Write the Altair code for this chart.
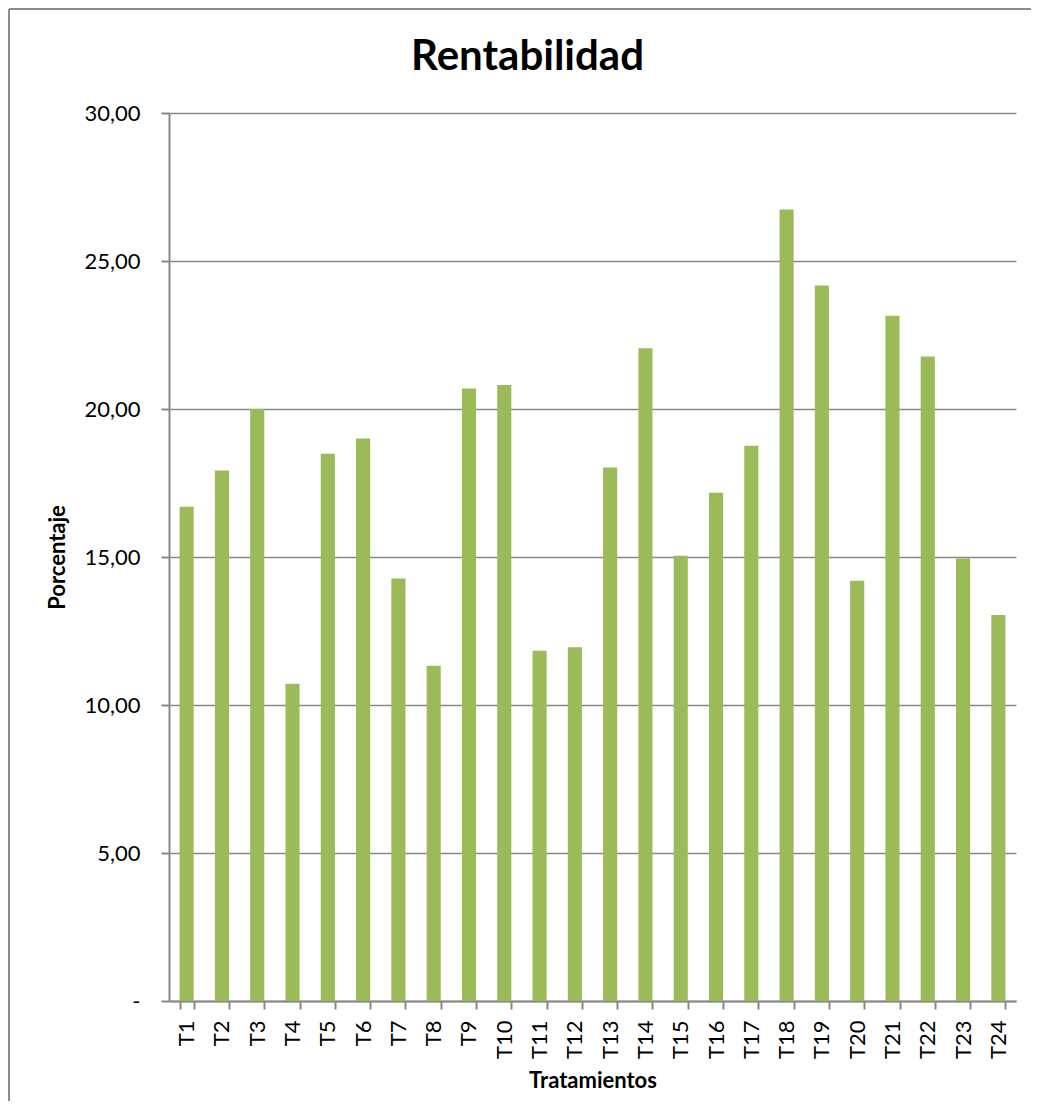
import altair as alt
import pandas as pd

categories = [f"T{i}" for i in range(1, 25)]
values = [16.70, 17.92, 20.00, 10.72, 18.49, 19.00, 14.27, 11.33, 20.69, 20.81,
          11.83, 11.95, 18.02, 22.05, 15.04, 17.17, 18.76, 26.74, 24.17, 14.20,
          23.15, 21.77, 14.95, 13.04]
y_ticks = [0, 5, 10, 15, 20, 25, 30]

df = pd.DataFrame({"cat": categories, "val": values})

FONT = "Lato"
GRAY = "#888888"
W, H = 847, 888
PAD_L, PAD_T, PAD_R, PAD_B = 161, 105, 15, 100

bars = alt.Chart(df).mark_bar(color="#9BBB59").encode(
    x=alt.X("cat:N", sort=categories,
            scale=alt.Scale(paddingInner=0.6, paddingOuter=0.3),
            axis=alt.Axis(title="Tratamientos", labelAngle=-90, tickBand="extent",
                          labelFontSize=22, labelColor="black", labelPadding=11,
                          tickSize=8, tickColor=GRAY, tickWidth=2,
                          domainColor=GRAY, domainWidth=2,
                          titleFontSize=22, titleFontWeight="bold", titleColor="black",
                          titleY=79, titleBaseline="middle")),
    y=alt.Y("val:Q", scale=alt.Scale(domain=[0, 30], nice=False),
            axis=alt.Axis(title="Porcentaje", values=y_ticks,
                          labelExpr="datum.value == 0 ? '-\u00a0\u00a0\u00a0' : replace(format(datum.value, '.2f'), '.', ',')",
                          labelFontSize=22, labelColor="black", labelPadding=21,
                          tickSize=8, tickColor=GRAY, tickWidth=2,
                          domainColor=GRAY, domainWidth=2,
                          grid=True, gridColor=GRAY, gridWidth=1.5,
                          titleFontSize=22, titleFontWeight="bold", titleColor="black",
                          titleAngle=-90, titleX=-112, titleY=444,
                          titleAlign="center", titleBaseline="middle")),
)

one = pd.DataFrame({"k": [0]})
border_left = alt.Chart(one).mark_rule(color="#8C8C8C", strokeWidth=2).encode(
    x=alt.value(-PAD_L + 1), y=alt.value(-PAD_T + 1), y2=alt.value(H + PAD_B))
border_top = alt.Chart(one).mark_rule(color="#8C8C8C", strokeWidth=2).encode(
    y=alt.value(-PAD_T + 1), x=alt.value(-PAD_L + 1), x2=alt.value(W + PAD_R))

chart = alt.layer(bars, border_left, border_top).properties(
    width=W, height=H,
    title=alt.TitleParams("Rentabilidad", fontSize=42, fontWeight="bold", color="black",
                          font=FONT, anchor="middle", dx=-65, baseline="alphabetic",
                          offset=-104),
    autosize=alt.AutoSizeParams(type="none"),
    padding={"left": PAD_L, "top": PAD_T, "right": PAD_R, "bottom": PAD_B},
).configure(font=FONT).configure_view(stroke=None).configure_axis(
    labelFont=FONT, titleFont=FONT)

chart.save("out.html", embed_options={"renderer": "svg", "actions": False})
